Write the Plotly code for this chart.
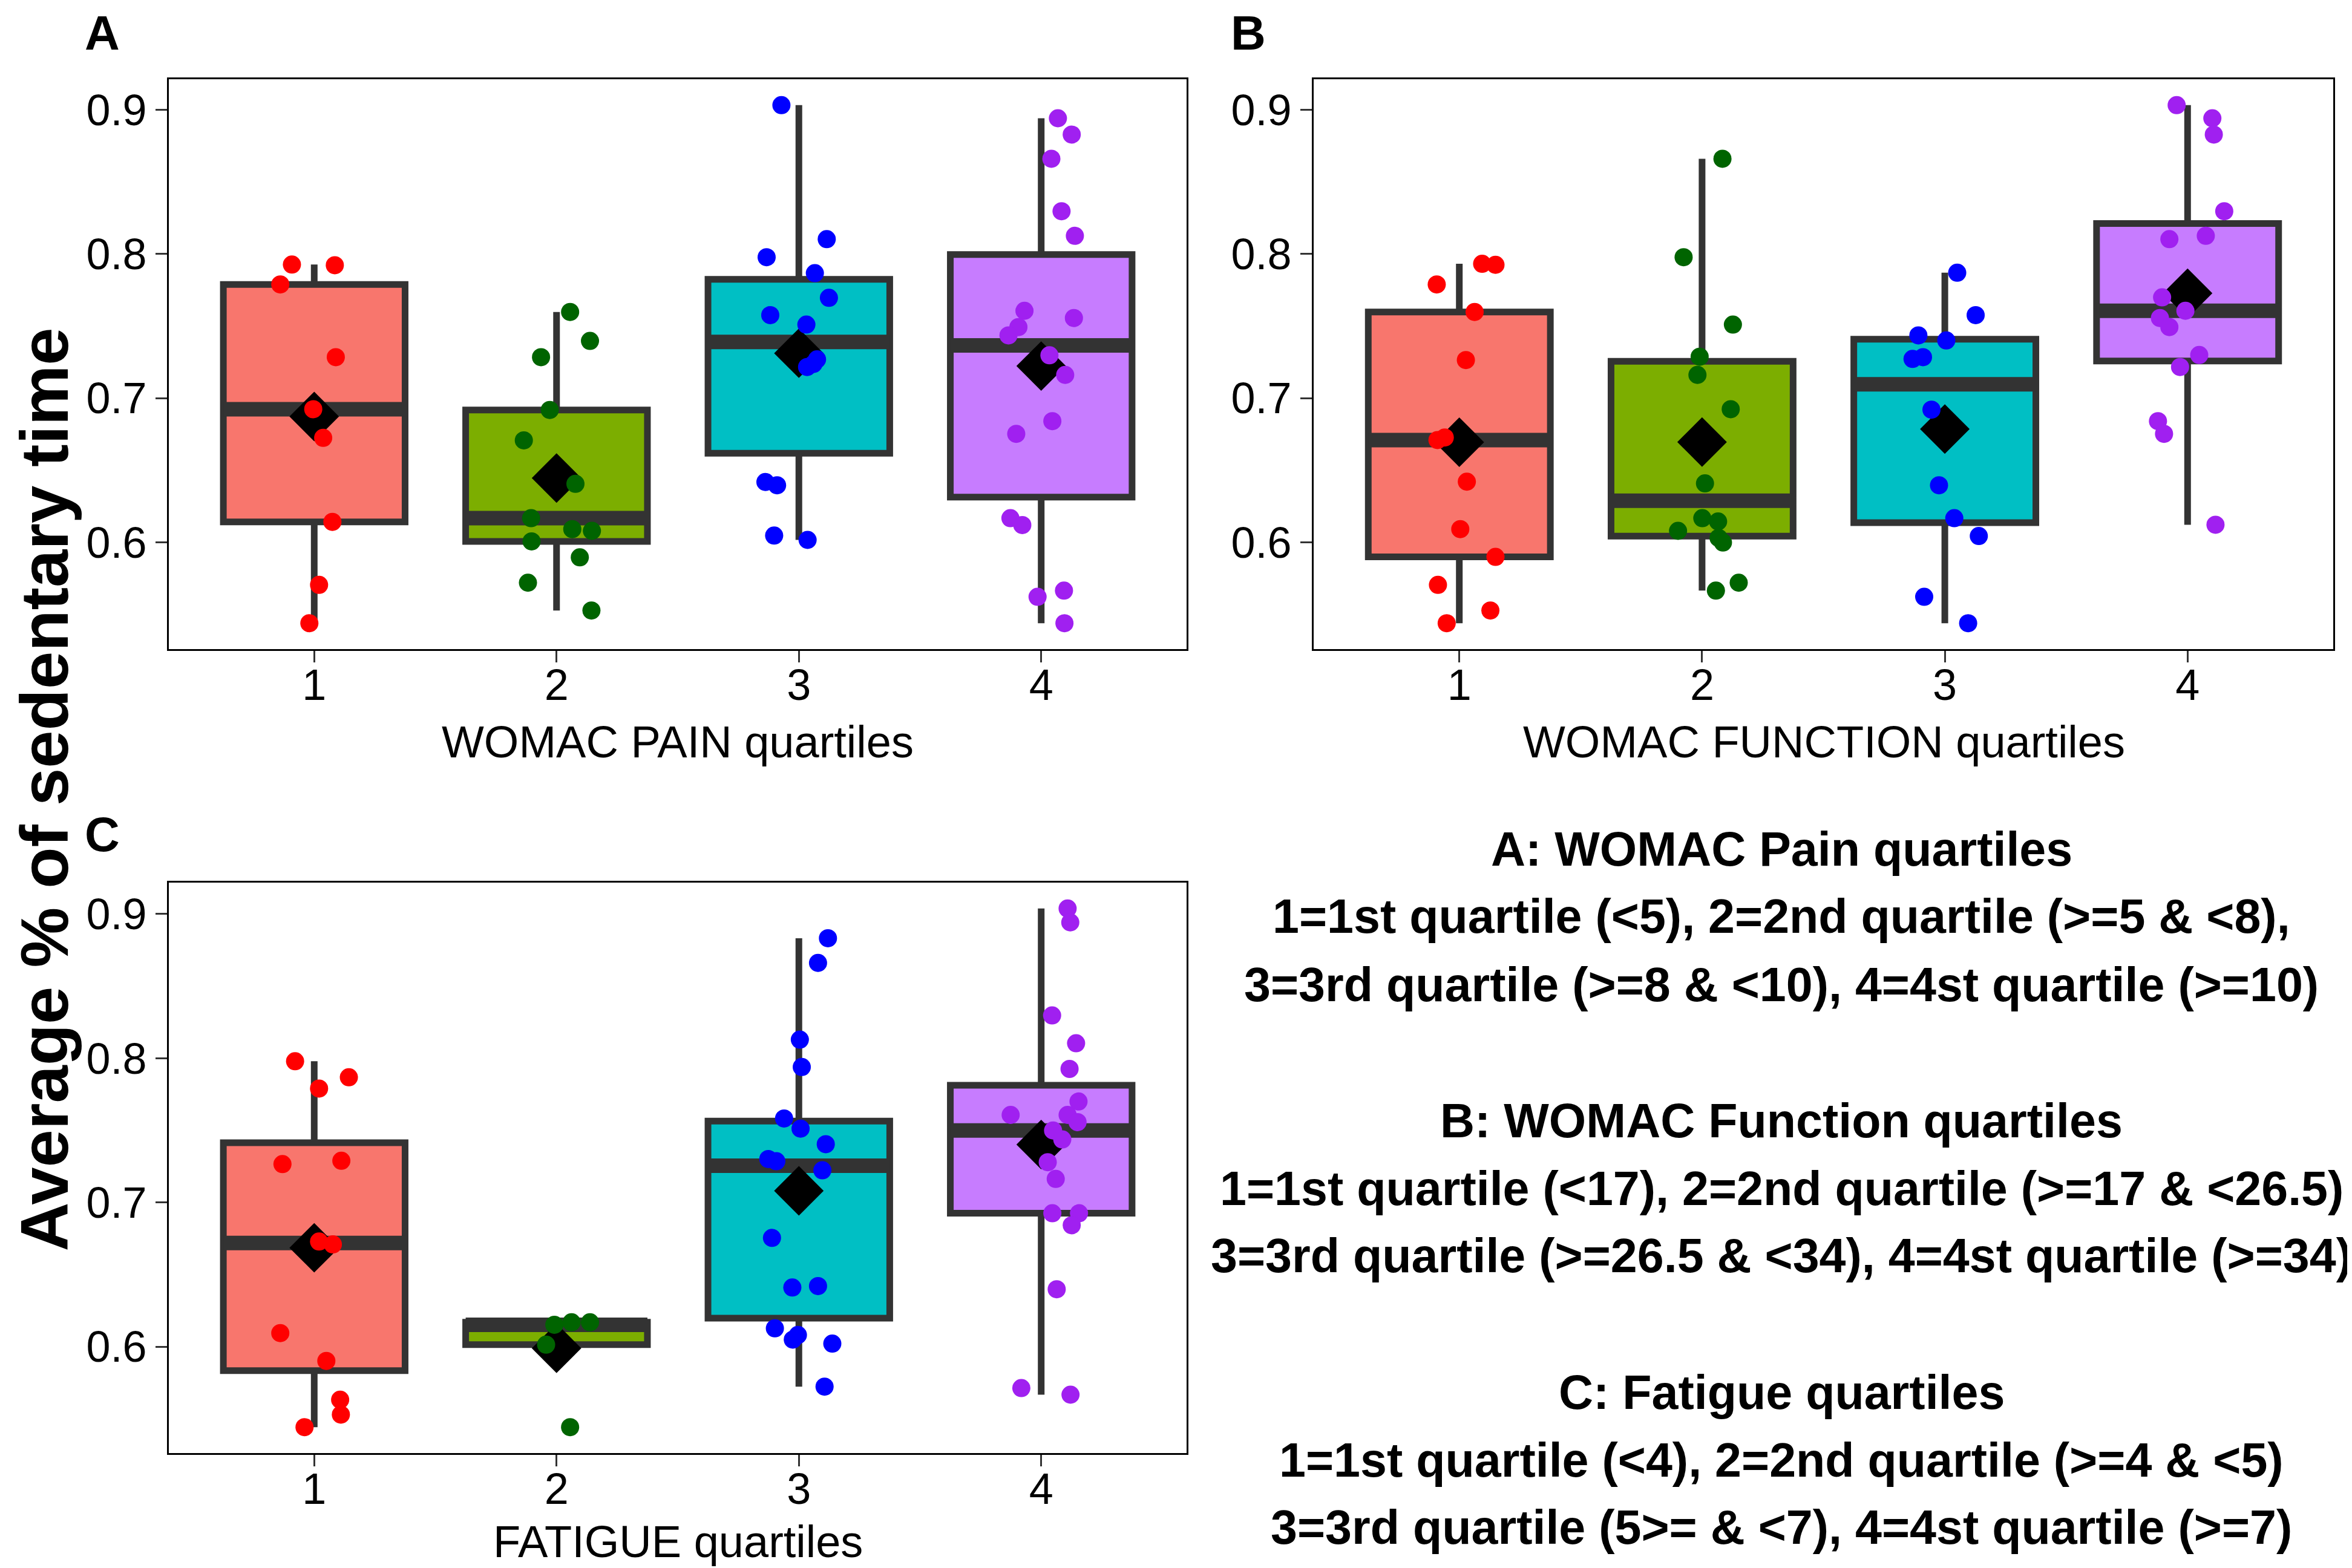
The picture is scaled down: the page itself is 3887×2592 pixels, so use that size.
import numpy as np
import plotly.graph_objects as go

W, H = 3887, 2592

# ---------------- data ----------------
categories = [1, 2, 3, 4]
x_tick_labels = ["1", "2", "3", "4"]
y_tick_vals = [0.6, 0.7, 0.8, 0.9]
y_tick_labels = ["0.6", "0.7", "0.8", "0.9"]

panel_letters = ["A", "B", "C"]
x_titles = ["WOMAC PAIN quartiles", "WOMAC FUNCTION quartiles", "FATIGUE quartiles"]
y_title = "Average % of sedentary time"

box_fills = ["#F8766D", "#7CAE00", "#00BFC4", "#C77CFF"]
point_colors = ["#FF0000", "#006400", "#0000FF", "#A020F0"]

# Panel A: WOMAC pain quartiles (values, and horizontal jitter offsets)
pain_1 = [0.7927, 0.7922, 0.7789, 0.7284, 0.6923, 0.6724, 0.6141, 0.5704, 0.5438]
pain_1_jit = [-0.092, 0.085, -0.140, 0.089, -0.004, 0.037, 0.075, 0.020, -0.020]
pain_2 = [0.7598, 0.7397, 0.7284, 0.6918, 0.6707, 0.6405, 0.6167, 0.6091, 0.6079,
          0.6006, 0.5895, 0.5719, 0.5526]
pain_2_jit = [0.056, 0.138, -0.064, -0.028, -0.135, 0.078, -0.105, 0.065, 0.146,
              -0.103, 0.096, -0.118, 0.144]
pain_3 = [0.9033, 0.8103, 0.7978, 0.7867, 0.7696, 0.7576, 0.7510, 0.7269, 0.7237,
          0.7216, 0.6418, 0.6395, 0.6046, 0.6016]
pain_3_jit = [-0.072, 0.115, -0.133, 0.066, 0.124, -0.118, 0.031, 0.075, 0.060,
              0.034, -0.138, -0.090, -0.102, 0.036]
pain_4 = [0.8942, 0.8829, 0.8661, 0.8297, 0.8126, 0.7606, 0.7556, 0.7493, 0.7435,
          0.7297, 0.7161, 0.6840, 0.6752, 0.6167, 0.6119, 0.5664, 0.5621, 0.5438]
pain_4_jit = [0.069, 0.126, 0.042, 0.084, 0.139, -0.069, 0.135, -0.094, -0.135,
              0.034, 0.099, 0.046, -0.103, -0.127, -0.078, 0.094, -0.015, 0.096]

# Panel B: WOMAC function quartiles
func_1 = [0.7932, 0.7925, 0.7789, 0.7598, 0.7264, 0.6727, 0.6709, 0.6420, 0.6091,
          0.5898, 0.5704, 0.5526, 0.5438]
func_1_jit = [0.094, 0.149, -0.093, 0.063, 0.027, -0.060, -0.090, 0.031, 0.004,
              0.149, -0.088, 0.128, -0.052]
func_2 = [0.8661, 0.7978, 0.7510, 0.7287, 0.7161, 0.6923, 0.6408, 0.6167, 0.6144,
          0.6079, 0.6030, 0.5998, 0.5719, 0.5664]
func_2_jit = [0.084, -0.076, 0.127, -0.010, -0.019, 0.118, 0.012, 0.001, 0.066,
              -0.099, 0.068, 0.086, 0.151, 0.057]
func_3 = [0.7870, 0.7576, 0.7435, 0.7400, 0.7284, 0.7272, 0.6920, 0.6395, 0.6167,
          0.6043, 0.5621, 0.5438]
func_3_jit = [0.051, 0.127, -0.109, 0.006, -0.090, -0.133, -0.055, -0.024, 0.039,
              0.140, -0.085, 0.096]
func_4 = [0.9033, 0.8942, 0.8829, 0.8297, 0.8126, 0.8103, 0.7699, 0.7606, 0.7556,
          0.7493, 0.7299, 0.7216, 0.6840, 0.6752, 0.6121]
func_4_jit = [-0.045, 0.102, 0.108, 0.151, 0.075, -0.075, -0.105, -0.009, -0.114,
              -0.075, 0.048, -0.031, -0.122, -0.097, 0.115]

# Panel C: fatigue quartiles
fat_1 = [0.7979, 0.7868, 0.7790, 0.7289, 0.7266, 0.6729, 0.6709, 0.6094, 0.5901,
         0.5632, 0.5529, 0.5442]
fat_1_jit = [-0.079, 0.143, 0.020, 0.112, -0.131, 0.020, 0.077, -0.140, 0.050,
             0.107, 0.110, -0.040]
fat_2 = [0.6169, 0.6169, 0.6152, 0.6014, 0.5442]
fat_2_jit = [0.062, 0.138, -0.009, -0.043, 0.056]
fat_3 = [0.8832, 0.8661, 0.8129, 0.7939, 0.7582, 0.7512, 0.7404, 0.7301, 0.7286,
         0.7223, 0.6754, 0.6420, 0.6410, 0.6127, 0.6081, 0.6049, 0.6021, 0.5723]
fat_3_jit = [0.120, 0.079, 0.004, 0.012, -0.061, 0.007, 0.111, -0.126, -0.093,
             0.097, -0.111, 0.079, -0.027, -0.099, -0.004, -0.025, 0.138, 0.106]
fat_4 = [0.9038, 0.8942, 0.8297, 0.8104, 0.7926, 0.7700, 0.7607, 0.7607, 0.7557,
         0.7499, 0.7437, 0.7279, 0.7163, 0.6925, 0.6925, 0.6842, 0.6398, 0.5713, 0.5667]
fat_4_jit = [0.109, 0.120, 0.045, 0.144, 0.117, 0.154, -0.126, 0.109, 0.150,
             0.049, 0.087, 0.027, 0.060, 0.046, 0.156, 0.126, 0.064, -0.082, 0.121]

legend_lines = [
    "A: WOMAC Pain quartiles",
    "1=1st quartile (<5), 2=2nd quartile (>=5 & <8),",
    "3=3rd quartile (>=8 & <10), 4=4st quartile (>=10)",
    "B: WOMAC Function quartiles",
    "1=1st quartile (<17), 2=2nd quartile (>=17 & <26.5)",
    "3=3rd quartile (>=26.5 & <34), 4=4st quartile (>=34)",
    "C: Fatigue quartiles",
    "1=1st quartile (<4), 2=2nd quartile (>=4 & <5)",
    "3=3rd quartile (5>= & <7), 4=4st quartile (>=7)",
]

panels = [
    ([pain_1, pain_2, pain_3, pain_4], [pain_1_jit, pain_2_jit, pain_3_jit, pain_4_jit]),
    ([func_1, func_2, func_3, func_4], [func_1_jit, func_2_jit, func_3_jit, func_4_jit]),
    ([fat_1, fat_2, fat_3, fat_4], [fat_1_jit, fat_2_jit, fat_3_jit, fat_4_jit]),
]

# ---------------- layout geometry (pixels) ----------------
FONT = "Liberation Sans, Arial, sans-serif"
BOX_W = 0.75
# (left, right, top, bottom) of each plotting panel in pixels
panel_px = [(271, 1953, 123, 1065), (2163, 3848, 123, 1065), (271, 1953, 1451, 2394)]


def box_stats(vals):
    a = np.asarray(vals, dtype=float)
    q1, med, q3 = np.percentile(a, [25, 50, 75])
    iqr = q3 - q1
    lo = a[a >= q1 - 1.5 * iqr].min()
    hi = a[a <= q3 + 1.5 * iqr].max()
    return q1, med, q3, lo, hi, a.mean()


def esc(s):
    return s.replace("&", "&amp;").replace("<", "&lt;").replace(">", "&gt;")


fig = go.Figure()
layout_axes = {}

for p, (groups, jits) in enumerate(panels):
    sfx = "" if p == 0 else str(p + 1)
    xa, ya = "x" + sfx, "y" + sfx
    stats = [box_stats(g) for g in groups]
    # boxes
    for k, st in enumerate(stats):
        q1, med, q3, lo, hi, mn = st
        fig.add_trace(go.Box(
            x=[categories[k]], q1=[q1], median=[med], q3=[q3],
            lowerfence=[lo], upperfence=[hi],
            width=BOX_W, whiskerwidth=0, boxpoints=False,
            fillcolor=box_fills[k], line=dict(color="#333333", width=11),
            xaxis=xa, yaxis=ya, showlegend=False, hoverinfo="skip"))
    # thick medians
    for k, st in enumerate(stats):
        fig.add_trace(go.Scatter(
            x=[categories[k] - BOX_W / 2, categories[k] + BOX_W / 2], y=[st[1], st[1]],
            mode="lines", line=dict(color="#333333", width=24),
            xaxis=xa, yaxis=ya, showlegend=False, hoverinfo="skip"))
    # means
    fig.add_trace(go.Scatter(
        x=categories, y=[st[5] for st in stats], mode="markers",
        marker=dict(symbol="diamond", size=63, color="black", line=dict(width=0)),
        xaxis=xa, yaxis=ya, showlegend=False, hoverinfo="skip"))
    # jittered points
    for k, (g, j) in enumerate(zip(groups, jits)):
        fig.add_trace(go.Scatter(
            x=[categories[k] + d for d in j], y=g, mode="markers",
            marker=dict(symbol="circle", size=30, color=point_colors[k], line=dict(width=0)),
            xaxis=xa, yaxis=ya, showlegend=False, hoverinfo="skip"))

    allv = np.concatenate([np.asarray(g) for g in groups])
    span = allv.max() - allv.min()
    yr = [allv.min() - 0.05 * span, allv.max() + 0.05 * span]
    l, r, t, b = panel_px[p]
    common = dict(showline=True, linecolor="black", linewidth=3, mirror=True,
                  ticks="outside", ticklen=19, tickwidth=3.3, tickcolor="#333333",
                  showgrid=False, zeroline=False,
                  tickfont=dict(family=FONT, size=72, color="black"))
    layout_axes["xaxis" + sfx] = dict(
        domain=[l / W, r / W], range=[0.4, 4.6], anchor=ya, ticklabelstandoff=-24,
        tickmode="array", tickvals=categories, ticktext=x_tick_labels, **common)
    layout_axes["yaxis" + sfx] = dict(
        domain=[1 - b / H, 1 - t / H], range=yr, anchor=xa,
        tickmode="array", tickvals=y_tick_vals, ticktext=y_tick_labels, **common)

annotations = []
# panel letters
for (lx, ly), letter in zip([(161, 1), (2055, 1), (161, 1326)], panel_letters):
    annotations.append(dict(x=lx / W, y=1 - ly / H, xref="paper", yref="paper",
                            text=letter, showarrow=False, xanchor="center", yanchor="top",
                            borderpad=0,
                            font=dict(family=FONT, size=80, color="black", weight="bold")))
# x axis titles
for (cx, cy), ttl in zip([(1112, 1218), (3006, 1218), (1112, 2540)], x_titles):
    annotations.append(dict(x=cx / W, y=1 - cy / H, xref="paper", yref="paper",
                            text=ttl, showarrow=False, xanchor="center", yanchor="middle",
                            font=dict(family=FONT, size=74, color="black")))
# y title
annotations.append(dict(x=1 / W, y=1 - 1297 / H, xref="paper", yref="paper",
                        text=esc(y_title), showarrow=False, textangle=-90,
                        xanchor="left", yanchor="middle", borderpad=0,
                        font=dict(family=FONT, size=112, color="black", weight="bold")))
# explanatory text block
line_y = [1396, 1507, 1619, 1844, 1956, 2067, 2293, 2405, 2516]
for ly, txt in zip(line_y, legend_lines):
    annotations.append(dict(x=2936 / W, y=1 - ly / H, xref="paper", yref="paper",
                            text=esc(txt), showarrow=False, xanchor="center", yanchor="middle",
                            font=dict(family=FONT, size=79, color="black", weight="bold")))

fig.update_layout(
    width=W, height=H, margin=dict(l=0, r=0, t=0, b=0),
    paper_bgcolor="white", plot_bgcolor="white", showlegend=False,
    annotations=annotations, **layout_axes)

fig.write_html("out.html")
